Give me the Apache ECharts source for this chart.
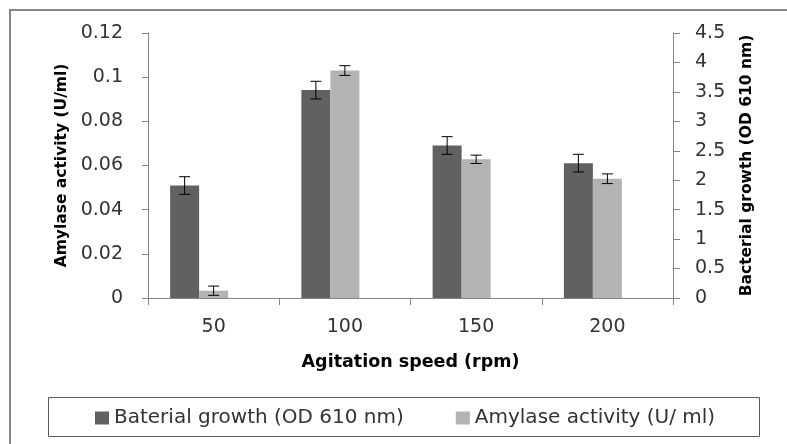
<!DOCTYPE html>
<html>
<head>
<meta charset="utf-8">
<script src="https://cdn.jsdelivr.net/npm/echarts@6/dist/echarts.min.js"></script>
<style>
html,body{margin:0;padding:0;background:#fff;}
#chart{width:787px;height:444px;}
</style>
</head>
<body>
<div id="chart"></div>
<script>
// ---- data ----
const categories = ['50', '100', '150', '200'];
const growthName = 'Baterial growth (OD 610 nm)';
const amylaseName = 'Amylase activity (U/ ml)';
const growth = [1.91, 3.53, 2.59, 2.29];        // OD 610 nm (right axis)
const growthErr = [0.15, 0.15, 0.15, 0.15];
const amylase = [0.0033, 0.103, 0.0628, 0.054]; // U/ml (left axis)
const amylaseErr = [0.0021, 0.0022, 0.0019, 0.0022];
const leftTicks = ['0', '0.02', '0.04', '0.06', '0.08', '0.1', '0.12'];
const rightTicks = ['0', '0.5', '1', '1.5', '2', '2.5', '3', '3.5', '4', '4.5'];

// ---- style ----
const BAR_W = 29;
const DARK = '#616161';
const LIGHT = '#b3b3b3';
const AXIS = '#868686';
const TXT = '#333333';
const FONT = 'DejaVu Sans';

function errorSeries(vals, errs, yIdx, offset) {
  return {
    type: 'custom',
    yAxisIndex: yIdx,
    z: 10,
    silent: true,
    data: vals.map((v, i) => [i, v, errs[i]]),
    encode: { x: 0, y: 1 },
    renderItem: function (params, api) {
      const x = api.value(0), v = api.value(1), e = api.value(2);
      const top = api.coord([x, v + e]);
      const bot = api.coord([x, v - e]);
      const cx = top[0] + offset;
      const hw = 5.5;
      const st = { stroke: '#000', lineWidth: 1 };
      return {
        type: 'group',
        children: [
          { type: 'line', shape: { x1: cx, y1: top[1], x2: cx, y2: bot[1] }, style: st },
          { type: 'line', shape: { x1: cx - hw, y1: top[1], x2: cx + hw, y2: top[1] }, style: st },
          { type: 'line', shape: { x1: cx - hw, y1: bot[1], x2: cx + hw, y2: bot[1] }, style: st }
        ]
      };
    }
  };
}

const chart = echarts.init(document.getElementById('chart'), null, { renderer: 'canvas' });
chart.setOption({
  animation: false,
  backgroundColor: '#ffffff',
  grid: { left: 148, right: 114, top: 33, bottom: 146 },
  graphic: [
    { type: 'rect', z: -10, shape: { x: 10, y: 10, width: 820, height: 470 },
      style: { fill: 'none', stroke: '#868686', lineWidth: 2 } },
    { type: 'rect', z: -10, shape: { x: 48.5, y: 397.5, width: 711, height: 39 },
      style: { fill: 'none', stroke: '#5a5a5a', lineWidth: 1 } }
  ],
  legend: {
    data: [growthName, amylaseName],
    left: 95, top: 408,
    padding: 0,
    itemWidth: 14, itemHeight: 13, itemGap: 52, itemTextGap: 6,
    icon: 'rect',
    textStyle: { fontFamily: FONT, fontSize: 20, color: TXT }
  },
  xAxis: {
    type: 'category',
    data: categories,
    name: 'Agitation speed (rpm)',
    nameLocation: 'middle',
    nameGap: 55,
    nameTextStyle: { fontFamily: FONT, fontSize: 17.5, fontWeight: 'bold', color: '#000' },
    axisLine: { lineStyle: { color: AXIS, width: 1 } },
    axisTick: { show: true, length: 7, lineStyle: { color: AXIS } },
    axisLabel: { margin: 20, fontFamily: FONT, fontSize: 19, color: TXT },
    splitLine: { show: false }
  },
  yAxis: [
    {
      type: 'value', min: 0, max: 0.12, interval: 0.02,
      name: 'Amylase activity (U/ml)',
      nameLocation: 'middle', nameGap: 78, nameRotate: 90,
      nameTextStyle: { fontFamily: FONT, fontSize: 15.5, fontWeight: 'bold', color: '#000' },
      axisLine: { show: true, lineStyle: { color: AXIS } },
      axisTick: { show: true, length: 6, lineStyle: { color: AXIS } },
      axisLabel: { margin: 25, fontFamily: FONT, fontSize: 19, color: TXT,
        formatter: (v, i) => leftTicks[i] },
      splitLine: { show: false }
    },
    {
      type: 'value', min: 0, max: 4.5, interval: 0.5, position: 'right',
      name: 'Bacterial growth (OD 610 nm)',
      nameLocation: 'middle', nameGap: 66, nameRotate: 90,
      nameTextStyle: { fontFamily: FONT, fontSize: 15.5, fontWeight: 'bold', color: '#000' },
      axisLine: { show: true, lineStyle: { color: AXIS } },
      axisTick: { show: true, length: 7, lineStyle: { color: AXIS } },
      axisLabel: { margin: 22, fontFamily: FONT, fontSize: 19, color: TXT,
        formatter: (v, i) => rightTicks[i] },
      splitLine: { show: false }
    }
  ],
  series: [
    { name: growthName, type: 'bar', yAxisIndex: 1, data: growth, barWidth: BAR_W, barGap: '0%',
      itemStyle: { color: DARK } },
    { name: amylaseName, type: 'bar', yAxisIndex: 0, data: amylase, barWidth: BAR_W, barGap: '0%',
      itemStyle: { color: LIGHT } },
    { name: 'spacer', type: 'bar', yAxisIndex: 0, data: categories.map(() => null), barWidth: BAR_W, barGap: '0%',
      itemStyle: { color: 'transparent' } },
    errorSeries(growth, growthErr, 1, -BAR_W),
    errorSeries(amylase, amylaseErr, 0, 0)
  ]
});
</script>
</body>
</html>
